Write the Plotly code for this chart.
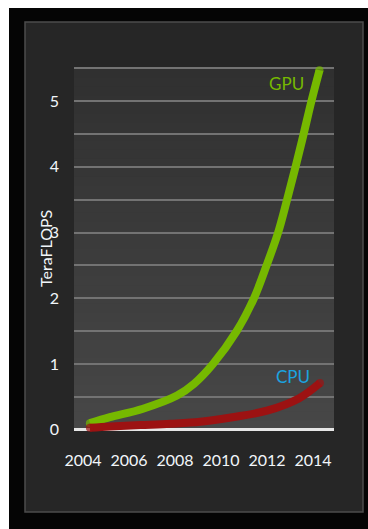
import plotly.graph_objects as go

# Peak throughput, TeraFLOPS by year
gpu_years = [2004.30, 2005.17, 2006.61, 2008.09, 2008.83, 2009.65, 2010.68, 2011.43,
             2011.98, 2012.48, 2012.87, 2013.24, 2013.59, 2013.93, 2014.28]
gpu_tflops = [0.10, 0.19, 0.32, 0.52, 0.70, 1.00, 1.50, 2.00,
              2.50, 3.00, 3.50, 4.00, 4.50, 5.00, 5.47]

cpu_years = [2004.3, 2005.2, 2006.5, 2007.8, 2009.1, 2010.5, 2012.0, 2013.4, 2014.3]
cpu_tflops = [0.03, 0.05, 0.07, 0.09, 0.12, 0.19, 0.29, 0.48, 0.71]

x_ticks = [2004, 2006, 2008, 2010, 2012, 2014]
y_ticks = [0, 1, 2, 3, 4, 5]

GPU_GREEN = "#76b900"
CPU_RED = "#9c1212"
CPU_BLUE = "#1ba3e0"
TEXT = "#f2f6fa"
FONT = "Lato"

W, H = 368, 529
M_L, M_R, M_T, M_B = 74, 34, 65, 96
PW, PH = W - M_L - M_R, H - M_T - M_B


def px_x(p):
    return (p - M_L) / PW


def px_y(p):
    return (H - M_B - p) / PH


def end_caps(n, size):
    return [size] + [0] * (n - 2) + [size]


fig = go.Figure()

fig.add_trace(go.Scatter(
    x=gpu_years, y=gpu_tflops, mode="lines+markers",
    line=dict(color=GPU_GREEN, width=8, shape="spline", smoothing=1.0),
    marker=dict(color=GPU_GREEN, size=end_caps(len(gpu_years), 8), line=dict(width=0)),
    hoverinfo="skip", showlegend=False,
))
fig.add_trace(go.Scatter(
    x=cpu_years, y=cpu_tflops, mode="lines+markers",
    line=dict(color=CPU_RED, width=8, shape="spline", smoothing=1.0),
    marker=dict(color=CPU_RED, size=end_caps(len(cpu_years), 8), line=dict(width=0)),
    hoverinfo="skip", showlegend=False,
))

shapes = []
# outer black frame and bordered dark panel
shapes.append(dict(type="rect", xref="paper", yref="paper",
                   x0=px_x(9), x1=px_x(372), y0=px_y(533), y1=px_y(8),
                   fillcolor="#050505", line=dict(width=0), layer="below"))
shapes.append(dict(type="rect", xref="paper", yref="paper",
                   x0=px_x(25), x1=px_x(363), y0=px_y(512), y1=px_y(22),
                   fillcolor="#262626", line=dict(color="#4c4c4c", width=1.5),
                   layer="below"))
# vertical shading of the plot area, darker at the top; each band reaches
# to the top so no seams show between neighbouring bands
n_strips = 40
top_rgb = (0x30, 0x30, 0x30)
bot_rgb = (0x47, 0x47, 0x47)
for i in range(n_strips):
    t = i / (n_strips - 1)
    c = tuple(round(b + (a - b) * t) for a, b in zip(top_rgb, bot_rgb))
    shapes.append(dict(type="rect", xref="paper", yref="y",
                       x0=0, x1=1, y0=5.5 * i / n_strips, y1=5.5,
                       fillcolor="rgb(%d,%d,%d)" % c, line=dict(width=0), layer="below"))

fig.update_layout(
    width=W, height=H,
    margin=dict(l=M_L, r=M_R, t=M_T, b=M_B, pad=0),
    paper_bgcolor="#ffffff",
    plot_bgcolor="#262626",
    font=dict(family=FONT, color=TEXT, size=16),
    shapes=shapes,
    xaxis=dict(
        range=[2003.61, 2014.91], tickvals=x_ticks, ticktext=[str(v) for v in x_ticks],
        showgrid=False, zeroline=False, showline=False, ticks="",
        ticklabelstandoff=16, tickfont=dict(family=FONT, size=16, color=TEXT),
        fixedrange=True,
    ),
    yaxis=dict(
        range=[-0.05, 5.55], tickvals=y_ticks, ticktext=[str(v) for v in y_ticks],
        showgrid=True, gridcolor="#737373", gridwidth=1.6,
        minor=dict(dtick=0.5, tick0=0, showgrid=True, gridcolor="#737373", gridwidth=1.6),
        zeroline=True, zerolinecolor="#e6e6e6", zerolinewidth=2.5,
        showline=False, ticks="", ticklabelstandoff=14,
        tickfont=dict(family=FONT, size=16, color=TEXT),
        fixedrange=True,
    ),
    annotations=[
        dict(x=px_x(45), y=0.5, xref="paper", yref="paper", text="TeraFLOPS",
             textangle=-90, showarrow=False, xanchor="center", yanchor="middle",
             font=dict(family=FONT, size=16, color=TEXT)),
        dict(x=2012.83, y=5.27, xref="x", yref="y", text="GPU", showarrow=False,
             xanchor="center", yanchor="middle",
             font=dict(family=FONT, size=17, color=GPU_GREEN)),
        dict(x=2013.13, y=0.81, xref="x", yref="y", text="CPU", showarrow=False,
             xanchor="center", yanchor="middle",
             font=dict(family=FONT, size=17, color=CPU_BLUE)),
    ],
)

fig.write_html("out.html")
